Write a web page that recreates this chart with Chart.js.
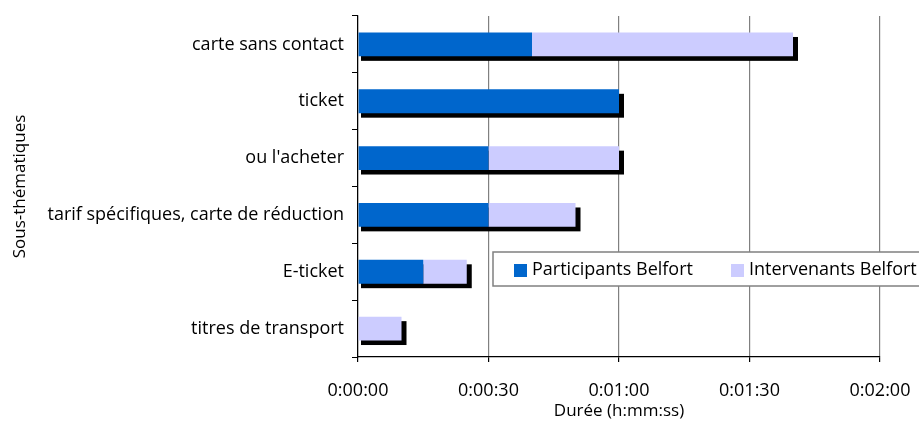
<!DOCTYPE html>
<html>
<head>
<meta charset="utf-8">
<script src="https://cdn.jsdelivr.net/npm/chart.js@4"></script>
<style>
  html, body { margin: 0; padding: 0; background: #fff; }
  #wrap { width: 919px; height: 421px; }
</style>
</head>
<body>
<div id="wrap"><canvas id="c"></canvas></div>
<script>
// categories, top to bottom
var categories = ['carte sans contact', 'ticket', "ou l'acheter", 'tarif spécifiques, carte de réduction', 'E-ticket', 'titres de transport'];
// durations in seconds
var participants = [40, 60, 30, 30, 15, 0];
var intervenants = [60, 0, 30, 20, 10, 10];
var xTicks = [0, 30, 60, 90, 120];
var seriesNames = ['Participants Belfort', 'Intervenants Belfort'];
var colors = ['#0066CC', '#CCCCFF'];

var FONT = "'Open Sans', 'DejaVu Sans', sans-serif";

function hms(s) {
    var h = Math.floor(s / 3600), m = Math.floor((s % 3600) / 60), sec = s % 60;
    return h + ':' + (m < 10 ? '0' : '') + m + ':' + (sec < 10 ? '0' : '') + sec;
}

// black drop shadow behind each stacked bar
var shadowPlugin = {
    id: 'shadow',
    beforeDatasetsDraw: function(chart) {
        var ctx = chart.ctx, xs = chart.scales.x;
        var meta = chart.getDatasetMeta(0);
        ctx.save();
        ctx.fillStyle = '#000';
        for (var i = 0; i < categories.length; i++) {
            var total = participants[i] + intervenants[i];
            if (!total) continue;
            var el = meta.data[i];
            var x0 = xs.getPixelForValue(0), x1 = xs.getPixelForValue(total);
            ctx.fillRect(x0 + 3, el.y - el.height / 2 + 4.5, x1 - x0 + 2, el.height);
        }
        ctx.restore();
    }
};

// boxed legend inside the plot
var legendPlugin = {
    id: 'boxLegend',
    afterDatasetsDraw: function(chart) {
        var ctx = chart.ctx;
        var bx = 493, by = 252, bw = 440, bh = 34;
        ctx.save();
        ctx.fillStyle = '#fff';
        ctx.fillRect(bx, by, bw, bh);
        ctx.strokeStyle = '#808080';
        ctx.lineWidth = 1.5;
        ctx.strokeRect(bx, by, bw, bh);
        ctx.font = '18px ' + FONT;
        ctx.textBaseline = 'middle';
        var items = [514, 731];
        chart.data.datasets.forEach(function(ds, k) {
            ctx.fillStyle = ds.backgroundColor;
            ctx.fillRect(items[k], by + 12, 13, 13);
            ctx.fillStyle = '#000';
            ctx.fillText(ds.label, items[k] + 18, by + bh / 2 + 1);
        });
        ctx.restore();
    }
};

new Chart(document.getElementById('c'), {
    type: 'bar',
    data: {
        labels: categories,
        datasets: [
            { label: seriesNames[0], data: participants, backgroundColor: colors[0] },
            { label: seriesNames[1], data: intervenants, backgroundColor: colors[1] }
        ]
    },
    options: {
        indexAxis: 'y',
        responsive: true,
        maintainAspectRatio: false,
        animation: false,
        categoryPercentage: 0.42,
        barPercentage: 1,
        layout: { padding: { top: 16, right: 39, left: 0, bottom: 0 } },
        plugins: { legend: { display: false }, tooltip: { enabled: false } },
        scales: {
            x: {
                stacked: true,
                min: 0, max: 120,
                afterBuildTicks: function(s) { s.ticks = xTicks.map(function(v) { return { value: v }; }); },
                afterFit: function(s) { s.height = 64; s.paddingLeft = 0; s.paddingRight = 0; },
                ticks: { color: '#000', font: { family: FONT, size: 18 }, padding: 18, maxRotation: 0,
                         callback: function(v) { return hms(v); } },
                grid: { color: '#808080', lineWidth: 1.2, tickLength: 5, tickColor: '#000' },
                border: { color: '#000', width: 1.2 },
                title: { display: true, text: 'Durée (h:mm:ss)', color: '#000',
                         font: { family: FONT, size: 17 }, padding: { top: 0, bottom: 0 } }
            },
            y: {
                stacked: true,
                afterFit: function(s) { s.width = 358; s.paddingTop = 0; s.paddingBottom = 0; },
                ticks: { color: '#000', font: { family: FONT, size: 18 }, padding: 8 },
                grid: { drawOnChartArea: false, tickLength: 6, color: '#000', offset: true },
                border: { color: '#000', width: 1.2 },
                title: { display: true, text: 'Sous-thématiques', color: '#000',
                         font: { family: FONT, size: 17 }, padding: { top: 10, bottom: 0 } }
            }
        }
    },
    plugins: [shadowPlugin, legendPlugin]
});
</script>
</body>
</html>
